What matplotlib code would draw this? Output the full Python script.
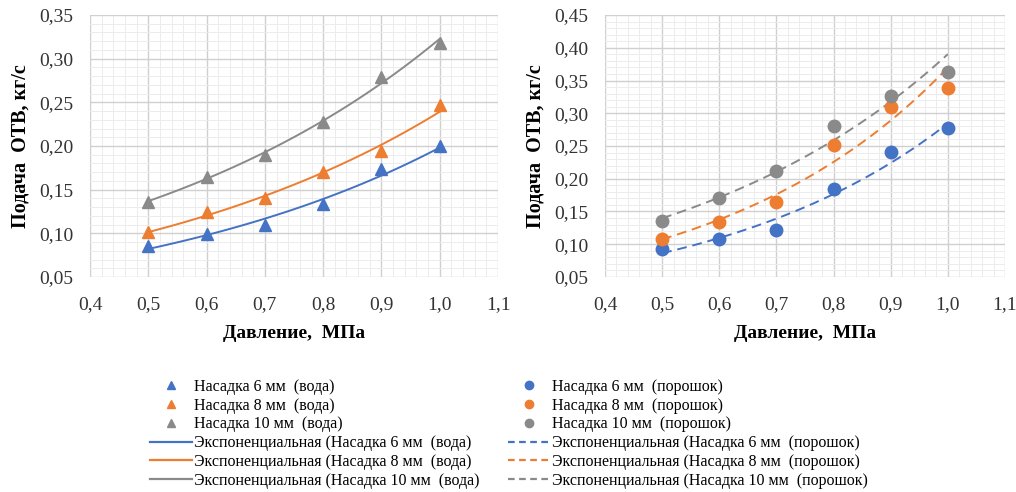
import numpy as np
import matplotlib
matplotlib.use('Agg')
import matplotlib.pyplot as plt
from matplotlib.ticker import FuncFormatter, MultipleLocator
from matplotlib.lines import Line2D

plt.rcParams['font.family'] = ['Liberation Serif', 'DejaVu Serif']

# pressure, MPa
pressure = [0.5, 0.6, 0.7, 0.8, 0.9, 1.0]

# water (вода)
water_6 = [0.085, 0.099, 0.110, 0.134, 0.174, 0.200]
water_8 = [0.101, 0.124, 0.140, 0.170, 0.194, 0.247]
water_10 = [0.136, 0.165, 0.190, 0.228, 0.279, 0.318]

# powder (порошок)
powder_6 = [0.092, 0.108, 0.121, 0.185, 0.241, 0.277]
powder_8 = [0.108, 0.134, 0.165, 0.252, 0.310, 0.338]
powder_10 = [0.135, 0.170, 0.212, 0.281, 0.327, 0.363]

nozzles = ['6', '8', '10']
colors = ['#4472C4', '#ED7D31', '#8A8A8A']

def exp_fit(x, y):
    # same as excel exponential trendline: ln(y) = ln(a) + b*x
    b, lna = np.polyfit(x, np.log(y), 1)
    xs = np.linspace(min(x), max(x), 100)
    return xs, np.exp(lna) * np.exp(b * xs)

comma = FuncFormatter(lambda v, p: ('%.1f' % v).replace('.', ','))
comma2 = FuncFormatter(lambda v, p: ('%.2f' % v).replace('.', ','))

fig = plt.figure(figsize=(10.16, 4.92), dpi=100)
ax1 = fig.add_axes([0.0886, 0.437, 0.4016, 0.5325])
ax2 = fig.add_axes([0.5955, 0.437, 0.3937, 0.5325])

def setup(ax, ymax):
    ax.set_xlim(0.4, 1.1)
    ax.set_ylim(0.05, ymax)
    ax.xaxis.set_major_locator(MultipleLocator(0.1))
    ax.xaxis.set_minor_locator(MultipleLocator(0.02))
    ax.yaxis.set_major_locator(MultipleLocator(0.05))
    ax.yaxis.set_minor_locator(MultipleLocator(0.01))
    ax.xaxis.set_major_formatter(comma)
    ax.yaxis.set_major_formatter(comma2)
    ax.grid(which='major', color='#d0d0d0', lw=1.0)
    ax.grid(which='minor', color='#ececec', lw=0.7)
    ax.set_axisbelow(True)
    for s in ax.spines.values():
        s.set_visible(False)
    ax.tick_params(which='both', length=0, labelsize=14, colors='#333333')
    ax.tick_params(axis='x', pad=14)
    ax.tick_params(axis='y', pad=12)
    ax.set_xlabel('Давление,  МПа', fontsize=14, fontweight='bold', labelpad=8)
    ax.set_ylabel('Подача  ОТВ, кг/с', fontsize=14.5, fontweight='bold', labelpad=6)

setup(ax1, 0.35)
setup(ax2, 0.45)

water = [water_6, water_8, water_10]
powder = [powder_6, powder_8, powder_10]

for y, c in zip(water, colors):
    xs, ys = exp_fit(pressure, y)
    ax1.plot(xs, ys, color=c, lw=1.4, zorder=2)
    ax1.plot(pressure, y, '^', color=c, ms=9, zorder=3, ls='none')

for y, c in zip(powder, colors):
    xs, ys = exp_fit(pressure, y)
    ax2.plot(xs, ys, color=c, lw=1.4, ls=(0, (5, 3)), zorder=2)
    ax2.plot(pressure, y, 'o', color=c, ms=9, zorder=3, ls='none')

# legends
h_left = [Line2D([], [], marker='^', color=c, ls='none', ms=6) for c in colors]
h_left += [Line2D([], [], color=c, lw=1.6) for c in colors]
l_left = ['Насадка %s мм  (вода)' % n for n in nozzles]
l_left += ['Экспоненциальная (Насадка %s мм  (вода)' % n for n in nozzles]

h_right = [Line2D([], [], marker='o', color=c, ls='none', ms=6) for c in colors]
h_right += [Line2D([], [], color=c, lw=1.6, ls=(0, (3, 2))) for c in colors]
l_right = ['Насадка %s мм  (порошок)' % n for n in nozzles]
l_right += ['Экспоненциальная (Насадка %s мм  (порошок)' % n for n in nozzles]

kw = dict(frameon=False, fontsize=11.5, handlelength=2.6, handletextpad=0.15,
          labelspacing=0.17, borderaxespad=0, borderpad=0, loc='upper left')
fig.legend(h_left, l_left, bbox_to_anchor=(150 / 1016, 1 - 379 / 492), **kw)
fig.legend(h_right, l_right, bbox_to_anchor=(508 / 1016, 1 - 379 / 492), **kw)

fig.savefig('out.png', dpi=100)
